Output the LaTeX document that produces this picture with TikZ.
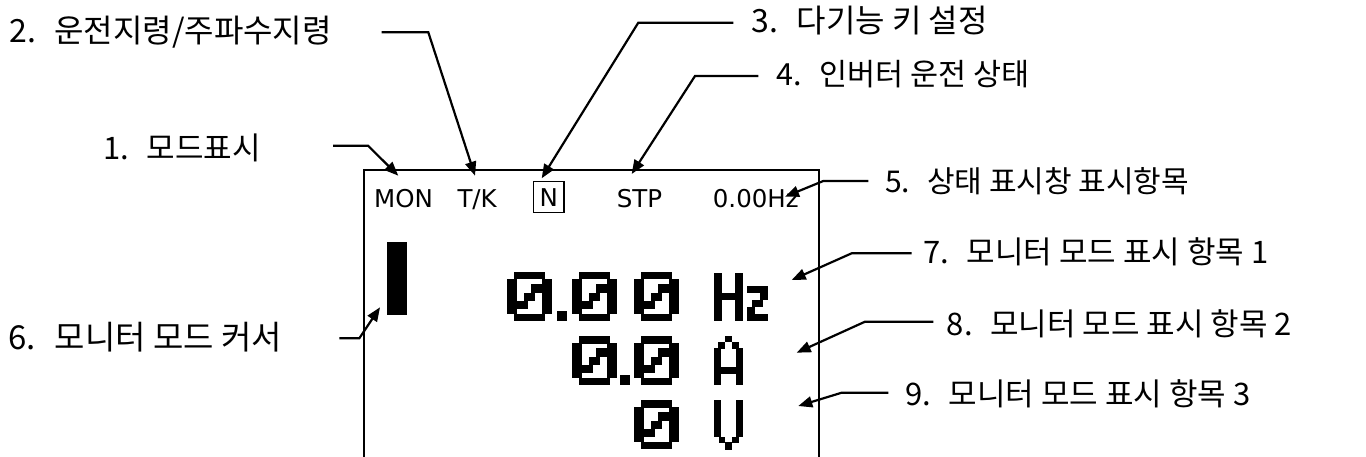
\documentclass[tikz,border=0pt]{standalone}
\usepackage{fontspec}
\usetikzlibrary{arrows.meta}
\newfontfamily\krfont{Noto Sans CJK KR}
\newfontfamily\lcdfont{DejaVu Sans}
\newcommand\pre[1]{\makebox[1.4em][l]{#1}}
\newcommand\lcdzero[2]{%
  \begin{scope}[shift={(#1,#2)}]
    \fill (7,0) rectangle (38,7.5);
    \fill (7,41.5) rectangle (38,49);
    \fill (0,7) rectangle (10,42);
    \fill (35,7) rectangle (45,42);
    \fill (24,12) rectangle (35,21);
    \fill (17,21) rectangle (28,29);
    \fill (10,29) rectangle (21,37);
  \end{scope}}
\begin{document}
\begin{tikzpicture}[x=1pt,y=-1pt,
  lab/.style={anchor=west, inner sep=0pt, font=\krfont\fontsize{#1}{34}\selectfont},
  lab/.default=31,
  stat/.style={anchor=base west, inner sep=0pt, font=\lcdfont\fontsize{24.5}{28}\selectfont},
  conn/.style={line width=2.2pt, -{Triangle[length=14pt,width=11pt]}},
  frame/.style={line width=2pt}]
\useasboundingbox[fill=white] (0,0) rectangle (1366,457);

% display frame
\draw[frame] (364,458) -- (364,170.5) -- (818.5,170.5) -- (818.5,458);

% status line
\node[stat] (mon) at (374,207.3) {MON};
\node[stat] (tk) at (457.3,207.3) {T/K};
\node[draw, line width=1.6pt, minimum width=30.7pt, minimum height=31pt, inner sep=0pt,
      font=\lcdfont\fontsize{24.5}{28}\selectfont] (nkey) at (548.7,197.2) {N};
\node[stat] (stp) at (616.7,207.3) {STP};
\node[stat] (hz) at (712.7,207.3) {0.00Hz};

% cursor
\fill (387.3,241.7) rectangle (407.3,315);

% LCD digits
\lcdzero{507}{272}
\fill (557,311) rectangle (567,321);
\lcdzero{572}{272}
\lcdzero{634}{272}
\lcdzero{572}{336}
\fill (620,375) rectangle (630,385);
\lcdzero{634}{336}
\lcdzero{634}{400}

% H
\fill (714,272.7) rectangle (721.5,320.7);
\fill (735.2,272.7) rectangle (742.7,320.7);
\fill (721.5,292.5) rectangle (735.2,299.5);
% z
\fill (747,286) rectangle (768.3,293);
\fill (760,293) rectangle (768.3,299.5);
\fill (752,299.5) rectangle (763,306.5);
\fill (747,306.5) rectangle (755,313.5);
\fill (747,313.5) rectangle (768.3,320.7);
% A
\fill (725.3,335.5) rectangle (731.7,341.7);
\fill (718.3,341.7) rectangle (725.3,348.5);
\fill (731.7,341.7) rectangle (738.5,348.5);
\fill (714,348.3) rectangle (721,385);
\fill (735.7,348.3) rectangle (742.7,385);
\fill (721,367.3) rectangle (735.7,373.5);
% V
\fill (714,400) rectangle (721,437);
\fill (735.7,400) rectangle (742.7,437);
\fill (718.5,437) rectangle (725.3,443);
\fill (731.7,437) rectangle (738.5,443);
\fill (725.3,442) rectangle (731.7,449.5);

% labels
\node[lab] (l1) at (103,147.5) {\pre{1.}모드표시};
\node[lab=32] (l2) at (9.3,32.5) {\pre{2.}운전지령/주파수지령};
\node[lab=32] (l3) at (751.7,21) {\pre{3.}다기능 키 설정};
\node[lab=30.5] (l4) at (776.7,74) {\pre{4.}인버터 운전 상태};
\node[lab=30] (l5) at (885,181) {\pre{5.}상태 표시창 표시항목};
\node[lab=33] (l6) at (8.3,336.7) {\pre{6.}모니터 모드 커서};
\node[lab] (l7) at (923.3,251.7) {\pre{7.}모니터 모드 표시 항목 1};
\node[lab] (l8) at (946.7,324) {\pre{8.}모니터 모드 표시 항목 2};
\node[lab] (l9) at (905,393.3) {\pre{9.}모니터 모드 표시 항목 3};

% connector points
\coordinate (s1) at (333,145.7); \coordinate (b1) at (368,145.7); \coordinate (t1) at (398.3,175.7);
\coordinate (s2) at (381.7,32.3); \coordinate (b2) at (428.3,32.3); \coordinate (t2) at (475,175.7);
\coordinate (s3) at (733.3,22.7); \coordinate (b3) at (638.3,22.7); \coordinate (t3) at (541.7,178.3);
\coordinate (s4) at (758.3,76); \coordinate (b4) at (695,76); \coordinate (t4) at (631.7,174);
\coordinate (s5) at (868.3,181); \coordinate (b5) at (823.3,181); \coordinate (t5) at (785,196.7);
\coordinate (s6) at (339.3,338.3); \coordinate (b6) at (359.3,338.3); \coordinate (t6) at (380,307.3);
\coordinate (s7) at (911.7,253.3); \coordinate (b7) at (851.7,253.3); \coordinate (t7) at (791.7,280);
\coordinate (s8) at (933.3,321.7); \coordinate (b8) at (865,321.7); \coordinate (t8) at (796.7,352.7);
\coordinate (s9) at (888.3,392.7); \coordinate (b9) at (841.7,392.7); \coordinate (t9) at (798.3,406);

\foreach \i in {1,...,9}{\draw[conn] (s\i) -- (b\i) -- (t\i);}
\end{tikzpicture}
\end{document}
